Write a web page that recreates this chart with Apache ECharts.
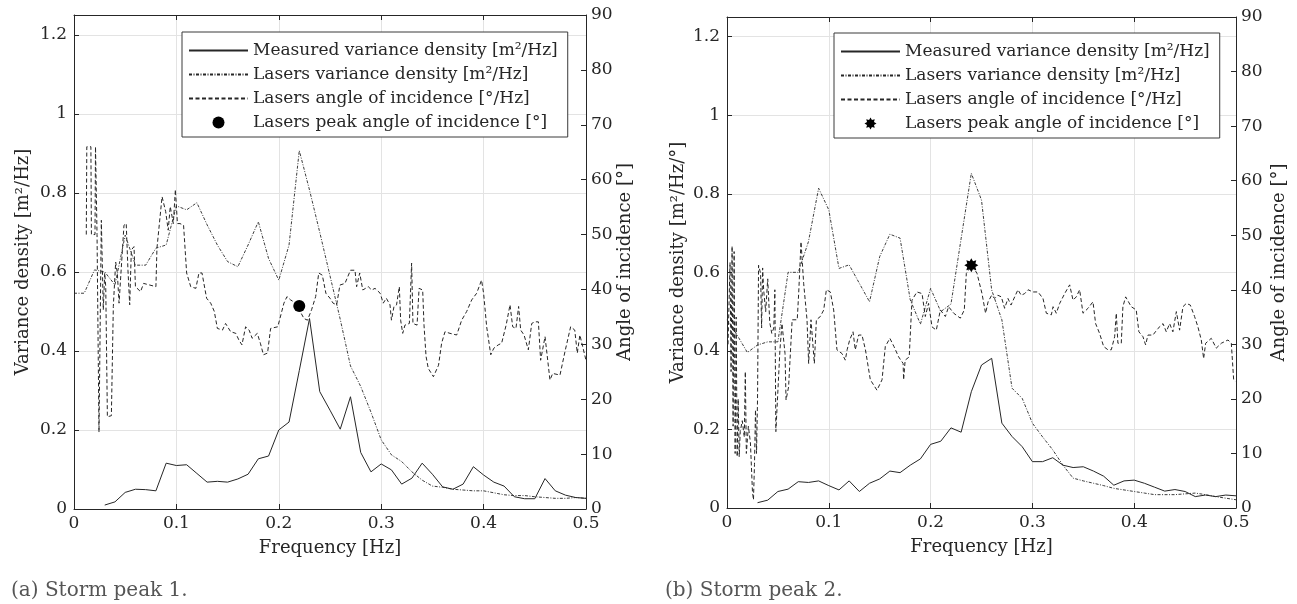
<!DOCTYPE html>
<html>
<head>
<meta charset="utf-8">
<script src="https://cdn.jsdelivr.net/npm/echarts/dist/echarts.min.js"></script>
<style>
html,body{margin:0;padding:0;background:#fff;}
#chart{width:1297px;height:604px;}
</style>
</head>
<body>
<div id="chart"></div>
<script>
// ---------- DATA: Storm peak 1 ----------
const measFreqA = [0.03,0.04,0.05,0.06,0.07,0.08,0.09,0.10,0.11,0.12,0.13,0.14,0.15,0.16,0.17,0.18,0.19,0.20,0.21,0.22,0.23,0.24,0.25,0.26,0.27,0.28,0.29,0.30,0.31,0.32,0.33,0.34,0.35,0.36,0.37,0.38,0.39,0.40,0.41,0.42,0.43,0.44,0.45,0.46,0.47,0.48,0.49,0.50];
const measA = [0.010,0.018,0.042,0.050,0.049,0.046,0.116,0.110,0.112,0.090,0.068,0.070,0.068,0.076,0.088,0.127,0.134,0.200,0.220,0.350,0.482,0.297,0.250,0.202,0.284,0.143,0.094,0.114,0.099,0.063,0.078,0.116,0.088,0.056,0.050,0.063,0.107,0.086,0.068,0.058,0.031,0.026,0.026,0.077,0.046,0.035,0.029,0.027];
const laserFreqA = [0.00,0.01,0.02,0.03,0.04,0.05,0.06,0.07,0.08,0.09,0.10,0.11,0.12,0.13,0.14,0.15,0.16,0.17,0.18,0.19,0.20,0.21,0.22,0.23,0.24,0.25,0.26,0.27,0.28,0.29,0.30,0.31,0.32,0.33,0.34,0.35,0.36,0.37,0.38,0.39,0.40,0.41,0.42,0.43,0.44,0.45,0.46,0.47,0.48,0.49,0.50];
const laserA = [0.546,0.546,0.605,0.600,0.567,0.693,0.617,0.617,0.660,0.668,0.767,0.757,0.775,0.719,0.668,0.626,0.613,0.668,0.727,0.634,0.579,0.668,0.907,0.807,0.700,0.590,0.480,0.362,0.310,0.245,0.175,0.137,0.120,0.094,0.073,0.058,0.055,0.050,0.048,0.046,0.046,0.041,0.036,0.034,0.034,0.031,0.029,0.027,0.027,0.029,0.027];
const angFreqA = [0.012,0.0125,0.0165,0.017,0.0205,0.021,0.022,0.0225,0.0244,0.0267,0.0286,0.030,0.031,0.0326,0.0345,0.0365,0.0384,0.0407,0.0423,0.044,0.0488,0.051,0.0527,0.0544,0.056,0.0586,0.060,0.065,0.068,0.080,0.081,0.086,0.0895,0.092,0.094,0.097,0.099,0.101,0.1035,0.107,0.110,0.114,0.119,0.122,0.125,0.1295,0.1335,0.137,0.140,0.145,0.148,0.153,0.158,0.161,0.164,0.1676,0.171,0.174,0.179,0.182,0.185,0.189,0.192,0.199,0.205,0.208,0.2115,0.2165,0.2246,0.228,0.232,0.236,0.239,0.2425,0.246,0.250,0.253,0.2565,0.2597,0.2646,0.270,0.2744,0.276,0.279,0.282,0.2874,0.2907,0.294,0.299,0.302,0.305,0.3086,0.310,0.3125,0.315,0.3177,0.319,0.321,0.3232,0.3275,0.3297,0.331,0.335,0.337,0.3405,0.3418,0.3438,0.346,0.351,0.356,0.359,0.3623,0.3672,0.3737,0.3786,0.3835,0.3884,0.3932,0.398,0.400,0.403,0.407,0.410,0.4143,0.4176,0.422,0.4258,0.4284,0.4316,0.4342,0.4362,0.4395,0.4437,0.447,0.450,0.4535,0.4557,0.460,0.4648,0.4675,0.4746,0.4795,0.485,0.489,0.4915,0.494,0.500];
const angA = [50,66,66,50,50,66,66,50,14,52.6,36.3,43,40.5,16.8,16.5,17,36.9,45,43,37.5,51.7,52,43.5,37.2,47.2,47.8,40.5,39.6,41.1,40.5,47.5,56.9,54.2,50.8,55.1,52,58.2,52,52,51.7,43,40.5,40.2,43,43,38.4,37.5,36,32.9,32.6,33.8,32.3,32,30.8,29.9,33.2,32.6,31.1,32,30.2,28.1,28.4,32.9,33.2,37.5,38.7,38.1,37.5,34.7,34.4,36.3,38.7,43,42.6,39.3,38.4,37.5,37.2,40.8,41.1,43.5,43.5,40.5,43,39.9,40.5,39.9,40.2,39.3,37.5,38.4,37.2,34.4,36.9,37.2,40.5,34.4,32,33.5,33.8,44.8,33.8,33.5,40.2,39.9,33.5,27.8,25.6,24.1,26.2,30.2,32.3,32,31.7,34.4,36,38.1,39.3,41.7,39.3,33.2,28.1,29.3,29.9,30.2,33.5,37.2,33.2,32.9,36.9,32.6,31.7,29,33.8,34.1,34.1,27.1,31.4,23.5,24.7,24.4,28.7,33.2,32.6,28.4,31.7,27.1];
const peakFreqA = [0.22];
const peakAngA = [37.0];

// ---------- DATA: Storm peak 2 ----------
const measFreqB = [0.03,0.04,0.05,0.06,0.07,0.08,0.09,0.10,0.11,0.12,0.13,0.14,0.15,0.16,0.17,0.18,0.19,0.20,0.21,0.22,0.23,0.24,0.25,0.26,0.27,0.28,0.29,0.30,0.31,0.32,0.33,0.34,0.35,0.36,0.37,0.38,0.39,0.40,0.41,0.42,0.43,0.44,0.45,0.46,0.47,0.48,0.49,0.50];
const measB = [0.0135,0.020,0.042,0.048,0.067,0.065,0.069,0.057,0.046,0.069,0.042,0.063,0.074,0.094,0.090,0.109,0.125,0.162,0.170,0.204,0.193,0.296,0.364,0.381,0.216,0.182,0.156,0.118,0.118,0.128,0.109,0.103,0.105,0.094,0.081,0.058,0.069,0.071,0.063,0.053,0.043,0.047,0.042,0.029,0.033,0.029,0.033,0.031];
const laserFreqB = [0.00,0.01,0.02,0.03,0.04,0.05,0.06,0.07,0.08,0.09,0.10,0.11,0.12,0.13,0.14,0.15,0.16,0.17,0.18,0.19,0.20,0.21,0.22,0.23,0.24,0.25,0.26,0.27,0.28,0.29,0.30,0.31,0.32,0.33,0.34,0.35,0.36,0.37,0.38,0.39,0.40,0.41,0.42,0.43,0.44,0.45,0.46,0.47,0.48,0.49,0.50];
const laserB = [0.479,0.440,0.396,0.415,0.423,0.423,0.600,0.600,0.678,0.814,0.759,0.610,0.619,0.572,0.525,0.640,0.697,0.687,0.530,0.468,0.559,0.500,0.519,0.686,0.852,0.784,0.555,0.479,0.305,0.279,0.216,0.181,0.148,0.109,0.076,0.069,0.063,0.057,0.050,0.046,0.042,0.038,0.034,0.034,0.034,0.036,0.038,0.034,0.029,0.025,0.021];
const angFreqB = [0.001,0.003,0.004,0.005,0.006,0.007,0.008,0.009,0.010,0.011,0.012,0.013,0.015,0.017,0.018,0.019,0.021,0.023,0.025,0.026,0.027,0.028,0.029,0.030,0.031,0.033,0.034,0.035,0.036,0.038,0.040,0.042,0.044,0.046,0.047,0.048,0.049,0.052,0.054,0.057,0.058,0.0605,0.064,0.069,0.0704,0.0727,0.0753,0.0786,0.0802,0.0825,0.0858,0.0878,0.0917,0.095,0.0976,0.1015,0.1048,0.108,0.113,0.1162,0.118,0.1205,0.1238,0.126,0.1293,0.1326,0.136,0.1408,0.1473,0.1523,0.1555,0.160,0.164,0.1686,0.173,0.1735,0.175,0.179,0.1817,0.1866,0.1916,0.1948,0.198,0.2014,0.2056,0.2096,0.2145,0.2177,0.2227,0.2292,0.2331,0.2351,0.2407,0.2456,0.2505,0.254,0.2565,0.260,0.2629,0.266,0.2695,0.2727,0.276,0.279,0.2826,0.2858,0.289,0.2924,0.2957,0.3006,0.3055,0.3104,0.3137,0.3186,0.3203,0.3235,0.3268,0.3317,0.3366,0.3399,0.3431,0.3464,0.3497,0.3546,0.3595,0.3621,0.366,0.370,0.3742,0.3775,0.3808,0.3824,0.384,0.3873,0.3889,0.3916,0.3971,0.402,0.4046,0.4086,0.4112,0.4135,0.4184,0.4233,0.4283,0.4315,0.4348,0.438,0.4414,0.4446,0.4479,0.4512,0.4551,0.4593,0.4626,0.4659,0.4682,0.4702,0.4757,0.4806,0.4856,0.4921,0.4954,0.4977,0.4993];
const angB = [30,45,25,48,15,47,10,35,9.4,20,9.4,14,16,13,25,10,15,12,3,1.5,8,18,10,20,44.5,43,33,44,40,36,42,34,32,33,40,14,14.3,29,33.8,28.3,19.8,22.2,34.5,34.5,39.3,48.8,41.2,34.5,26.5,34.5,26.5,34.5,35.1,36.3,40,39.6,36.3,29,28.3,27.1,29,30.8,32.3,29,31.7,31.7,29,23.5,21.6,23.5,29.6,31.1,29.6,27.7,26.5,23.5,27.1,27.7,38.1,39.6,39.3,35.1,37.5,33.2,32.6,36.3,35.1,36.9,35.7,34.8,36.3,43,44.5,43,39.3,35.7,37.8,39,38.4,39,38.7,36.6,38.4,37.2,38.7,40,39,39.3,40,39.6,39.6,38.4,35.7,35.4,36.9,35.7,37.5,39.3,40.9,38.1,38.7,40,35.7,36.6,37.8,33.8,32,29.6,29,29,31.4,35.7,30.2,30.2,36.9,38.7,36.9,36.3,32.3,31.4,29.9,31.7,31.7,32.9,33.8,32.3,33.8,32.3,36,32.6,36.9,37.5,37.2,35.1,33.2,30.8,27.4,30.2,31.1,29.3,30.2,30.8,30.2,23.5,23.2];
const peakFreqB = [0.24];
const peakAngB = [44.5];

const names = {
  meas: 'Measured variance density [m²/Hz]',
  laser: 'Lasers variance density [m²/Hz]',
  ang: 'Lasers angle of incidence [°/Hz]',
  peak: 'Lasers peak angle of incidence [°]'
};

// ---------- helpers ----------
function zip(xs, ys) { return xs.map((x, i) => [x, ys[i]]); }
function starPath(n, R, r) {
  let d = '';
  for (let i = 0; i < 2 * n; i++) {
    const a = i * Math.PI / n - Math.PI / 2;
    const rad = i % 2 ? r : R;
    d += (i ? 'L' : 'M') + (rad * Math.cos(a)).toFixed(2) + ',' + (rad * Math.sin(a)).toFixed(2);
  }
  return 'path://' + d + 'Z';
}
const ASTER = starPath(8, 10, 6.3);

const FONT = 'DejaVu Serif';
const INK = '#262626';
const GRIDC = '#e3e3e3';
const DASH_DOT = [3, 1.5, 1, 1.5];
const DASHED = [4, 2.5];
const TICK_FS = 17;
const NAME_FS = 18;

const grids = [
  { left: 74, top: 15, width: 512, height: 494 },
  { left: 727, top: 17, width: 509, height: 491 }
];

function xBottom(gi) {
  return {
    type: 'value', gridIndex: gi, min: 0, max: 0.5, interval: 0.1, position: 'bottom',
    name: 'Frequency [Hz]', nameLocation: 'middle', nameGap: 30,
    nameTextStyle: { fontFamily: FONT, fontSize: NAME_FS, color: INK },
    axisLine: { show: true, onZero: false, lineStyle: { color: INK, width: 1 } },
    axisTick: { show: true, inside: true, length: 5, lineStyle: { color: INK } },
    axisLabel: { fontFamily: FONT, fontSize: TICK_FS, color: INK, margin: 6 },
    splitLine: { show: true, lineStyle: { color: GRIDC, width: 1 } }
  };
}
function xTop(gi) {
  return {
    type: 'value', gridIndex: gi, min: 0, max: 0.5, interval: 0.1, position: 'top',
    axisLine: { show: true, onZero: false, lineStyle: { color: INK, width: 1 } },
    axisTick: { show: true, inside: true, length: 5, lineStyle: { color: INK } },
    axisLabel: { show: false },
    splitLine: { show: false }
  };
}
function yLeft(gi, name, gap) {
  return {
    type: 'value', gridIndex: gi, min: 0, max: 1.25, interval: 0.2, position: 'left',
    name: name, nameLocation: 'middle', nameGap: gap, nameRotate: 90,
    nameTextStyle: { fontFamily: FONT, fontSize: NAME_FS, color: INK },
    axisLine: { show: true, onZero: false, lineStyle: { color: INK, width: 1 } },
    axisTick: { show: true, inside: true, length: 5, lineStyle: { color: INK } },
    axisLabel: { fontFamily: FONT, fontSize: TICK_FS, color: INK, margin: 7, showMaxLabel: false },
    splitLine: { show: true, lineStyle: { color: GRIDC, width: 1 } }
  };
}
function yRight(gi, gap) {
  return {
    type: 'value', gridIndex: gi, min: 0, max: 90, interval: 10, position: 'right',
    name: 'Angle of incidence [°]', nameLocation: 'middle', nameGap: gap, nameRotate: 90,
    nameTextStyle: { fontFamily: FONT, fontSize: NAME_FS, color: INK },
    axisLine: { show: true, onZero: false, lineStyle: { color: INK, width: 1 } },
    axisTick: { show: true, inside: true, length: 5, lineStyle: { color: INK } },
    axisLabel: { fontFamily: FONT, fontSize: TICK_FS, color: INK, margin: 5 },
    splitLine: { show: false }
  };
}
function legendFor(left, top, peakIcon) {
  return {
    orient: 'vertical', left: left, top: top,
    padding: [10, 10, 6, 6], itemGap: 7, itemWidth: 59, itemHeight: 12,
    backgroundColor: '#ffffff', borderColor: '#3a3a3a', borderWidth: 1, borderRadius: 0,
    textStyle: { fontFamily: FONT, fontSize: 17, color: INK },
    itemStyle: { opacity: 0, borderWidth: 0 },
    selectedMode: false,
    data: [
      { name: names.meas },
      { name: names.laser },
      { name: names.ang },
      { name: names.peak, icon: peakIcon, itemStyle: { opacity: 1, color: '#000', borderWidth: 0 } }
    ]
  };
}
function seriesFor(gi, meas, laser, ang, peak, peakSymbol, peakSize) {
  const xb = gi * 2, yl = gi * 2, yr = gi * 2 + 1;
  return [
    { name: names.meas, type: 'line', xAxisIndex: xb, yAxisIndex: yl, data: meas,
      symbol: 'none', lineStyle: { color: INK, width: 1, type: 'solid' }, itemStyle: { color: INK }, z: 3 },
    { name: names.laser, type: 'line', xAxisIndex: xb, yAxisIndex: yl, data: laser,
      symbol: 'none', lineStyle: { color: INK, width: 0.9, type: DASH_DOT }, itemStyle: { color: INK }, z: 3 },
    { name: names.ang, type: 'line', xAxisIndex: xb, yAxisIndex: yr, data: ang,
      symbol: 'none', lineStyle: { color: INK, width: 1, type: DASHED }, itemStyle: { color: INK }, z: 3 },
    { name: names.peak, type: 'scatter', xAxisIndex: xb, yAxisIndex: yr, data: peak,
      symbol: peakSymbol, symbolSize: peakSize, itemStyle: { color: '#000', opacity: 1 }, z: 5 }
  ];
}

const option = {
  animation: false,
  backgroundColor: '#ffffff',
  grid: grids.map(g => Object.assign({ containLabel: false, outerBoundsMode: 'none' }, g)),
  title: [
    { text: '(a) Storm peak 1.', left: 6, top: 576,
      textStyle: { fontFamily: FONT, fontSize: 20, fontWeight: 'normal', color: '#555555' } },
    { text: '(b) Storm peak 2.', left: 660, top: 576,
      textStyle: { fontFamily: FONT, fontSize: 20, fontWeight: 'normal', color: '#555555' } }
  ],
  legend: [
    legendFor(182, 32, 'circle'),
    legendFor(834, 33, ASTER)
  ],
  xAxis: [xBottom(0), xTop(0), xBottom(1), xTop(1)],
  yAxis: [
    yLeft(0, 'Variance density [m²/Hz]', 42), yRight(0, 30),
    yLeft(1, 'Variance density [m²/Hz/°]', 40), yRight(1, 34)
  ],
  series: [].concat(
    seriesFor(0, zip(measFreqA, measA), zip(laserFreqA, laserA), zip(angFreqA, angA), zip(peakFreqA, peakAngA), 'circle', 12),
    seriesFor(1, zip(measFreqB, measB), zip(laserFreqB, laserB), zip(angFreqB, angB), zip(peakFreqB, peakAngB), ASTER, 14)
  )
};

const chart = echarts.init(document.getElementById('chart'), null, { renderer: 'canvas' });
chart.setOption(option);
</script>
</body>
</html>
